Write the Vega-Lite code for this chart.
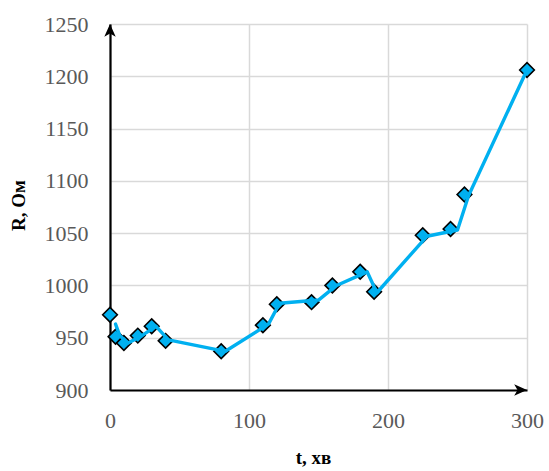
{
  "$schema": "https://vega.github.io/schema/vega-lite/v6.json",
  "width": 417,
  "height": 366,
  "autosize": "none",
  "padding": {"left": 110, "top": 24, "right": 22, "bottom": 81},
  "background": "white",
  "config": {"view": {"stroke": null}, "font": "Liberation Serif"},
  "datasets": {
    "measured": [
      {"t": 0, "R": 972},
      {"t": 4, "R": 951},
      {"t": 10, "R": 945},
      {"t": 20, "R": 952},
      {"t": 30, "R": 961},
      {"t": 40, "R": 947},
      {"t": 80, "R": 937},
      {"t": 110, "R": 962},
      {"t": 120, "R": 982},
      {"t": 145, "R": 984},
      {"t": 160, "R": 1000},
      {"t": 180, "R": 1013},
      {"t": 190, "R": 994},
      {"t": 225, "R": 1048},
      {"t": 245, "R": 1054},
      {"t": 255, "R": 1087},
      {"t": 300, "R": 1206}
    ],
    "trace": [
      {"t": 4, "R": 963},
      {"t": 7, "R": 952},
      {"t": 13, "R": 945},
      {"t": 23, "R": 952},
      {"t": 33, "R": 961},
      {"t": 42, "R": 948},
      {"t": 83, "R": 937},
      {"t": 114, "R": 963},
      {"t": 122, "R": 983},
      {"t": 150, "R": 986},
      {"t": 163, "R": 1000},
      {"t": 185, "R": 1013},
      {"t": 192, "R": 993},
      {"t": 228, "R": 1047},
      {"t": 250, "R": 1053},
      {"t": 258, "R": 1086},
      {"t": 300, "R": 1206}
    ],
    "single": [{}]
  },
  "layer": [
    {
      "data": {"name": "measured"},
      "mark": {"type": "point", "shape": "diamond", "filled": true, "fill": "#00B0F0", "stroke": "#000000", "strokeWidth": 1.6, "size": 215, "opacity": 1},
      "encoding": {
        "x": {
          "field": "t", "type": "quantitative",
          "scale": {"domain": [0, 300], "nice": false, "zero": false},
          "axis": {
            "values": [0, 100, 200, 300], "format": "d",
            "grid": true, "gridColor": "#d9d9d9", "gridWidth": 1.5,
            "domainColor": "#000000", "domainWidth": 2.2,
            "ticks": false, "tickSize": 0,
            "labelFont": "Liberation Serif", "labelFontSize": 22, "labelColor": "#595959",
            "labelPadding": 20, "labelFlush": false, "labelOverlap": false,
            "title": "t, хв",
            "titleFont": "Liberation Serif", "titleFontSize": 19, "titleFontWeight": "bold", "titleColor": "#000000",
            "titleX": 203, "titleY": 73, "titleBaseline": "alphabetic", "titleAlign": "center"
          }
        },
        "y": {
          "field": "R", "type": "quantitative",
          "scale": {"domain": [900, 1250], "nice": false, "zero": false},
          "axis": {
            "values": [900, 950, 1000, 1050, 1100, 1150, 1200, 1250], "format": "d",
            "grid": true, "gridColor": "#d9d9d9", "gridWidth": 1.5,
            "domainColor": "#000000", "domainWidth": 2.2,
            "ticks": false, "tickSize": 0,
            "labelFont": "Liberation Serif", "labelFontSize": 22, "labelColor": "#595959",
            "labelPadding": 22, "labelFlush": false, "labelOverlap": false,
            "title": "R, Ом",
            "titleFont": "Liberation Serif", "titleFontSize": 19, "titleFontWeight": "bold", "titleColor": "#000000",
            "titleX": -86, "titleY": 181, "titleAngle": 270, "titleBaseline": "alphabetic", "titleAlign": "center"
          }
        }
      }
    },
    {
      "data": {"name": "trace"},
      "mark": {"type": "line", "color": "#00B0F0", "strokeWidth": 3.4, "strokeJoin": "round", "strokeCap": "round"},
      "encoding": {
        "x": {"field": "t", "type": "quantitative"},
        "y": {"field": "R", "type": "quantitative"}
      }
    },
    {
      "data": {"name": "single"},
      "mark": {"type": "point", "shape": "M0,0 L1.2,2.7 L0,2 L-1.2,2.7 Z", "size": 90, "filled": true, "fill": "#000000", "strokeWidth": 0, "opacity": 1},
      "encoding": {
        "x": {"datum": 0, "type": "quantitative"},
        "y": {"datum": 1250, "type": "quantitative"}
      }
    },
    {
      "data": {"name": "single"},
      "mark": {"type": "point", "shape": "M0,0 L-2.7,-1.2 L-2,0 L-2.7,1.2 Z", "size": 90, "filled": true, "fill": "#000000", "strokeWidth": 0, "opacity": 1},
      "encoding": {
        "x": {"datum": 300, "type": "quantitative"},
        "y": {"datum": 900, "type": "quantitative"}
      }
    }
  ]
}
